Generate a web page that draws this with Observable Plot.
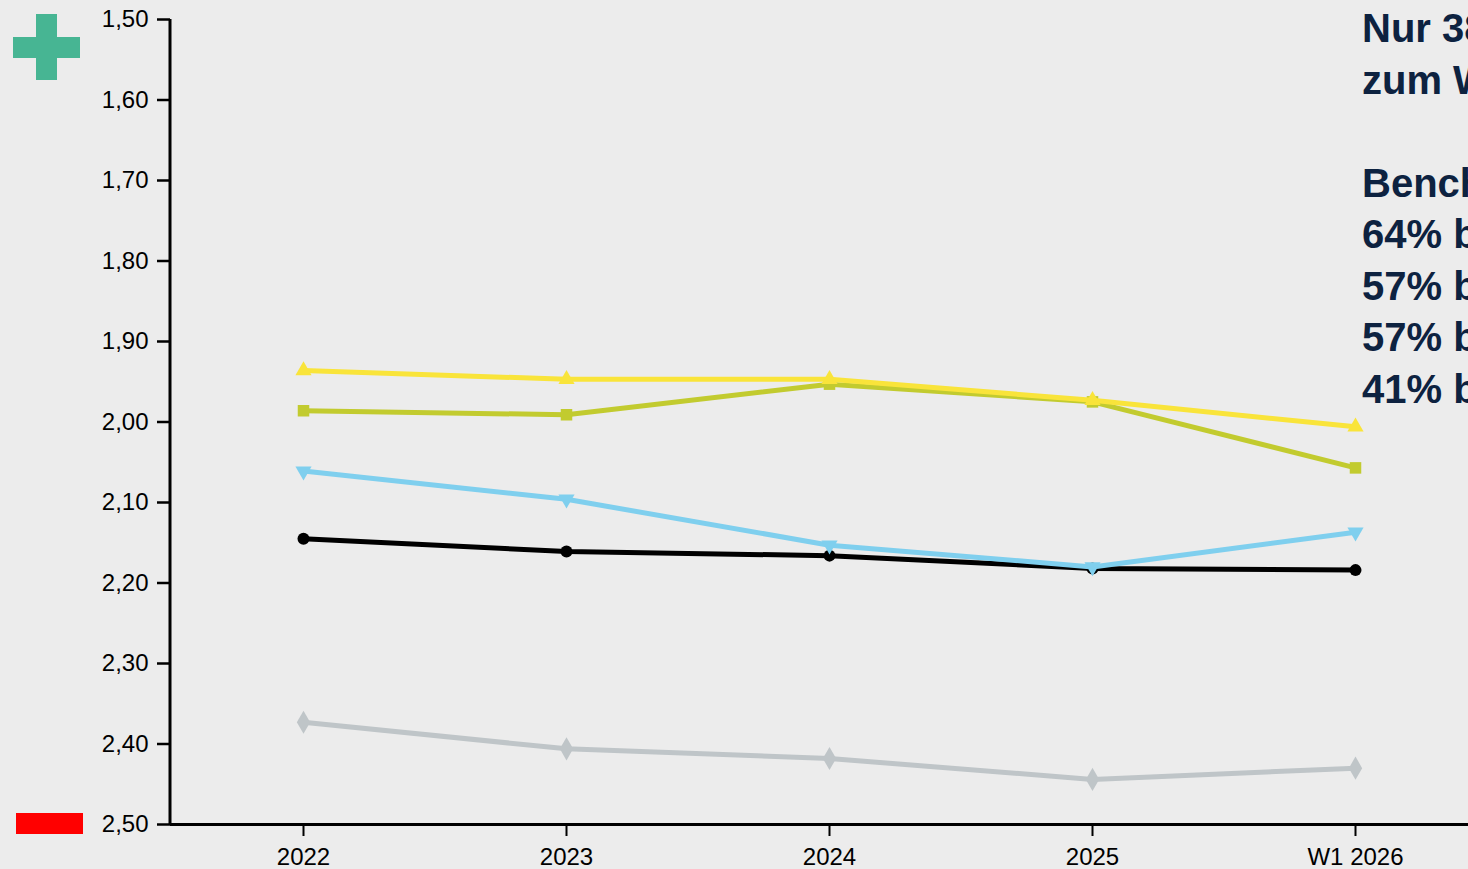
<!DOCTYPE html>
<html>
<head>
<meta charset="utf-8">
<script src="https://cdn.jsdelivr.net/npm/d3@7"></script>
<script src="https://cdn.jsdelivr.net/npm/@observablehq/plot@0.6"></script>
<style>
  html, body { margin: 0; padding: 0; background: #ececec; width: 1468px; height: 869px; overflow: hidden; }
  #wrap { position: relative; width: 1468px; height: 869px; overflow: hidden; }
  #chart { position: absolute; left: 0; top: 0; }
  .plus-h { position: absolute; left: 13px; top: 37px; width: 67px; height: 21px; background: #47b593; }
  .plus-v { position: absolute; left: 36px; top: 14px; width: 21px; height: 66px; background: #47b593; }
  .red { position: absolute; left: 16px; top: 813px; width: 67px; height: 21px; background: #ff0000; }
  #note { position: absolute; left: 1362px; top: 3px; font-family: "Liberation Sans", Arial, sans-serif; font-weight: bold;
          font-size: 40px; line-height: 51.5px; color: #0d2240; white-space: nowrap; }
</style>
</head>
<body>
<div id="wrap">
  <div id="chart"></div>
  <div class="plus-h"></div><div class="plus-v"></div>
  <div class="red"></div>
  <div id="note"></div>
</div>
<script>
// ---- data ----
const years = ["2022", "2023", "2024", "2025", "W1 2026"];
const yTicks = [1.5, 1.6, 1.7, 1.8, 1.9, 2.0, 2.1, 2.2, 2.3, 2.4, 2.5];
const seriesYellow = [1.936, 1.947, 1.947, 1.973, 2.006];
const seriesOlive  = [1.986, 1.991, 1.953, 1.975, 2.057];
const seriesBlue   = [2.061, 2.096, 2.153, 2.180, 2.137];
const seriesBlack  = [2.145, 2.161, 2.166, 2.182, 2.184];
const seriesGray   = [2.373, 2.406, 2.418, 2.444, 2.430];
const noteLines = ["Nur 38% der Befragten", "zum Wechsel bereit", "", "Benchmark:", "64% bei Gruppe A", "57% bei Gruppe B", "57% bei Gruppe C", "41% bei Gruppe D"];

// ---- build ----
const toRows = (vals) => years.map((y, i) => ({year: y, value: vals[i]}));
const triangleDown = {
  draw(context, size) {
    const s = Math.sqrt(size / (Math.sqrt(3) / 4));
    const h = s * Math.sqrt(3) / 2;
    context.moveTo(-s / 2, -h / 3);
    context.lineTo(s / 2, -h / 3);
    context.lineTo(0, 2 * h / 3);
    context.closePath();
  }
};
const series = [
  {vals: seriesGray,   color: "#bfc5c8", symbol: "diamond", r: 7,   sw: 5},
  {vals: seriesBlack,  color: "#000000", symbol: "circle",  r: 6,   sw: 5},
  {vals: seriesBlue,   color: "#7fcfee", symbol: triangleDown, r: 6, sw: 5},
  {vals: seriesOlive,  color: "#c2cb2f", symbol: "square",  r: 6.5, sw: 5},
  {vals: seriesYellow, color: "#f9e43a", symbol: "triangle", r: 6, sw: 5}
];
const marks = [];
for (const s of series) {
  const rows = toRows(s.vals);
  marks.push(Plot.line(rows, {x: "year", y: "value", stroke: s.color, strokeWidth: s.sw}));
  marks.push(Plot.dot(rows, {x: "year", y: "value", fill: s.color, symbol: () => s.symbol, r: s.r}));
}
// left axis line
marks.push((index, scales, values, dims) => {
  const line = d3.create("svg:line")
    .attr("x1", dims.marginLeft).attr("x2", dims.marginLeft)
    .attr("y1", dims.marginTop).attr("y2", dims.height - dims.marginBottom)
    .attr("stroke", "black").attr("stroke-width", 3);
  return line.node();
});
marks.push(Plot.ruleY([2.5], {stroke: "black", strokeWidth: 3}));

const fmt = (d) => d3.format(".2f")(d).replace(".", ",");
const chart = Plot.plot({
  width: 1468,
  height: 869,
  marginLeft: 170,
  marginRight: 0,
  marginTop: 19,
  marginBottom: 45,
  style: {background: "transparent", fontFamily: "Liberation Sans, Arial, sans-serif", fontSize: "24px", color: "#000", overflow: "visible"},
  x: {type: "point", domain: years, range: [302, 1356], padding: 0, axis: null},
  y: {domain: [1.5, 2.5], reverse: true, axis: null},
  symbol: {type: "identity"},
  marks: [
    Plot.axisY(yTicks, {tickSize: 13, tickPadding: 9, tickFormat: fmt, strokeWidth: 2.5, label: null, fontSize: 24}),
    Plot.axisX(years, {tickSize: 12, tickPadding: 11, strokeWidth: 2, label: null, fontSize: 24}),
    ...marks
  ]
});
document.getElementById("chart").appendChild(chart);
document.getElementById("note").innerHTML = noteLines.map(t => t === "" ? "&nbsp;" : t).join("<br>");
</script>
</body>
</html>
